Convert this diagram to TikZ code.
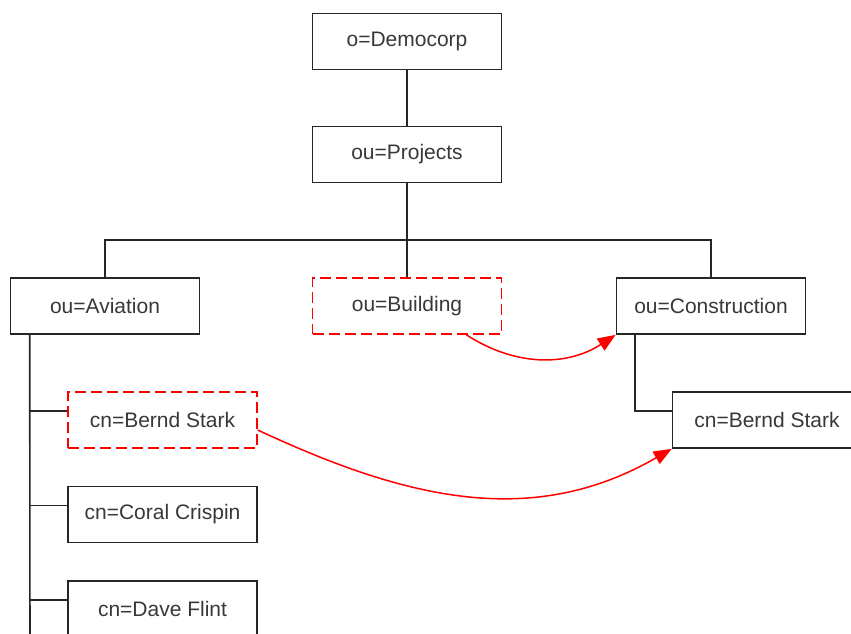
\documentclass[tikz,border=0pt]{standalone}
\usepackage{fontspec}
\setmainfont{Liberation Sans}
\usetikzlibrary{arrows.meta}

\begin{document}
\begin{tikzpicture}[x=1pt,y=-1pt,
		entry/.style={draw=black!85,line width=1.6pt,minimum width=189pt,minimum height=56pt,inner sep=0pt,text=black!78,font=\fontsize{21}{25}\selectfont},
		moved/.style={entry,draw=red,line width=1.4pt,dash pattern=on 11pt off 5pt},
		tree/.style={draw=black!85,line width=1.6pt},
		ref/.style={draw=red,line width=1.5pt,-{Triangle[length=18pt,width=14pt]}}]
			\useasboundingbox (0,0) rectangle (851,633);
			\clip (0,0) rectangle (851,633);
			\node[entry] (democorp) at (407,41.5) {o=Democorp};
			\node[entry] (projects) at (407,154.5) {ou=Projects};
			\foreach \n/\x/\s/\t in {aviation/105/entry/{ou=Aviation},building/407/moved/{ou=Building},construction/711/entry/{ou=Construction}}
			\node[\s] (\n) at (\x,306) {\t};
			\foreach \n/\y/\s/\t in {bernd/420/moved/{cn=Bernd Stark},coral/514.5/entry/{cn=Coral Crispin},dave/609/entry/{cn=Dave Flint}}
			\node[\s] (\n) at (162.5,\y) {\t};
			\node[entry] (berndnew) at (767,420) {cn=Bernd Stark};
			\coordinate (bus) at (407,240);
			\coordinate (trunk) at (30,660);
			\draw[tree] (democorp) -- (projects);
			\draw[tree] (projects) -- (building);
			\draw[tree] (aviation.north) |- (bus) -| (construction.north);
			\draw[tree] ([xshift=20pt]aviation.south west) -- (trunk);
			\foreach \n in {bernd,coral,dave}
			\draw[tree] ([yshift=9pt]\n.west) -- ([yshift=9pt]trunk |- \n.west);
			\draw[tree] ([xshift=19pt]construction.south west) |- ([yshift=9pt]berndnew.west);
			\draw[ref] ([xshift=-36pt]building.south east) to[out=-33,in=-147] (construction.south west);
			\draw[ref] ([yshift=-10pt]bernd.east) to[out=-25,in=-150] (berndnew.south west);
	\end{tikzpicture}
\end{document}
